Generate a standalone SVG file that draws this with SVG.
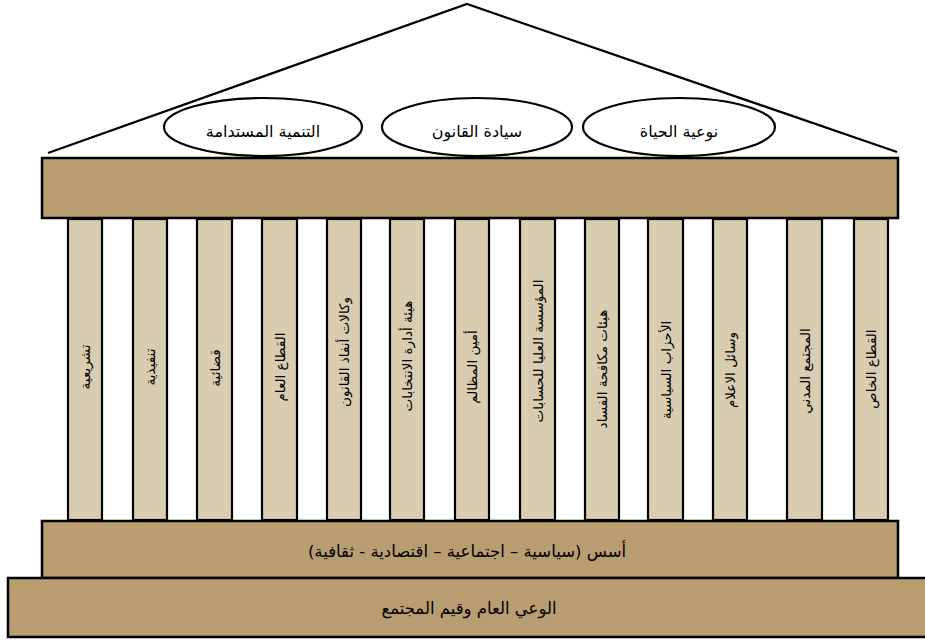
<svg xmlns="http://www.w3.org/2000/svg" width="925" height="641" viewBox="0 0 925 641">
<style>
.beam{fill:#b89d70;stroke:#000;stroke-width:2.5}
.col{fill:#d9ccb0;stroke:#000;stroke-width:2.2}
.oval{fill:#fff;stroke:#000;stroke-width:2.2}
.t{font-family:"DejaVu Sans",sans-serif;fill:#000;text-anchor:middle;direction:rtl}
.ct{font-size:13.5px;dominant-baseline:central}
.ot{font-size:16px;dominant-baseline:central}
.bt{font-size:16.5px;dominant-baseline:central}
</style>
<rect width="925" height="641" fill="#fff"/>
<g id="roof"><polyline points="48,153 467,4 897,152" fill="none" stroke="#000" stroke-width="2.2"/></g>
<g id="oval-development"><ellipse class="oval" cx="263" cy="127" rx="99" ry="29"/><text class="t ot" x="263" y="131">التنمية المستدامة</text></g>
<g id="oval-rule-of-law"><ellipse class="oval" cx="477" cy="127" rx="95" ry="29"/><text class="t ot" x="477" y="131">سيادة القانون</text></g>
<g id="oval-quality-of-life"><ellipse class="oval" cx="679" cy="127" rx="96" ry="29"/><text class="t ot" x="679" y="131">نوعية الحياة</text></g>
<g id="columns">
<g id="col-1"><rect class="col" x="68" y="219" width="34" height="301"/><text class="t ct" transform="translate(85,367) rotate(-90)">تشريعية</text></g>
<g id="col-2"><rect class="col" x="133" y="219" width="34" height="301"/><text class="t ct" transform="translate(150,367) rotate(-90)">تنفيذية</text></g>
<g id="col-3"><rect class="col" x="197" y="219" width="35" height="301"/><text class="t ct" transform="translate(214.5,368) rotate(-90)">قضائية</text></g>
<g id="col-4"><rect class="col" x="262" y="219" width="35" height="301"/><text class="t ct" transform="translate(279.5,367) rotate(-90)">القطاع العام</text></g>
<g id="col-5"><rect class="col" x="327" y="219" width="34" height="301"/><text class="t ct" transform="translate(344,352) rotate(-90)">وكالات أنفاذ القانون</text></g>
<g id="col-6"><rect class="col" x="390" y="219" width="34" height="301"/><text class="t ct" transform="translate(407,356) rotate(-90)">هيئة أدارة الانتخابات</text></g>
<g id="col-7"><rect class="col" x="455" y="219" width="34" height="301"/><text class="t ct" transform="translate(472,367) rotate(-90)">أمين المظالم</text></g>
<g id="col-8"><rect class="col" x="520" y="219" width="35" height="301"/><text class="t ct" transform="translate(537.5,351) rotate(-90)">المؤسسة العليا للحسابات</text></g>
<g id="col-9"><rect class="col" x="585" y="219" width="34" height="301"/><text class="t ct" transform="translate(602,369) rotate(-90)">هيئات مكافحة الفساد</text></g>
<g id="col-10"><rect class="col" x="648" y="219" width="35" height="301"/><text class="t ct" transform="translate(665.5,370) rotate(-90)">الأحزاب السياسية</text></g>
<g id="col-11"><rect class="col" x="713" y="219" width="34" height="301"/><text class="t ct" transform="translate(730,370) rotate(-90)">وسائل الاعلام</text></g>
<g id="col-12"><rect class="col" x="787" y="219" width="35" height="301"/><text class="t ct" transform="translate(804.5,371) rotate(-90)">المجتمع المدني</text></g>
<g id="col-13"><rect class="col" x="854" y="219" width="34" height="301"/><text class="t ct" transform="translate(871,369) rotate(-90)">القطاع الخاص</text></g>
</g>
<g id="top-beam"><rect class="beam" x="42" y="158" width="856" height="60"/></g>
<g id="foundations"><rect class="beam" x="42" y="521" width="856" height="57"/><text class="t bt" x="467" y="551">أسس (سياسية – اجتماعية – اقتصادية - ثقافية)</text></g>
<g id="awareness"><rect class="beam" x="8" y="578" width="930" height="59"/><text class="t bt" x="469" y="608">الوعي العام وقيم المجتمع</text></g>
</svg>
